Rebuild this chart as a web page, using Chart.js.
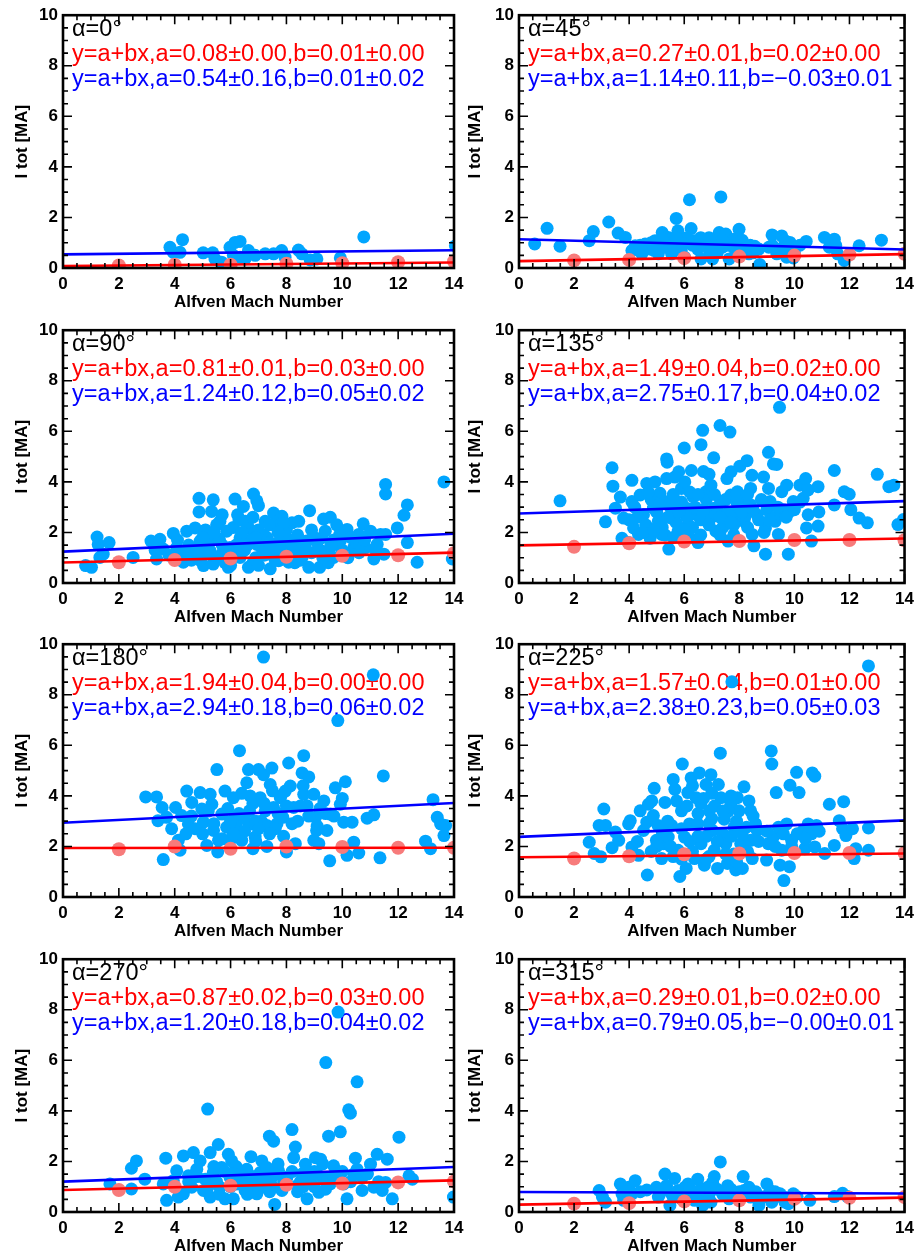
<!DOCTYPE html>
<html>
<head>
<meta charset="utf-8">
<script src="https://cdn.jsdelivr.net/npm/chart.js@4.4.1/dist/chart.umd.min.js"></script>
<style>
    html, body { margin: 0; padding: 0; background: #fff; width: 920px; height: 1255px; overflow: hidden; position: relative; }
    canvas { position: absolute; }
</style>
</head>
<body>
<script>
    // panel angles and the fit results printed inside each panel
    const angles = [0, 45, 90, 135, 180, 225, 270, 315];
    const redFitText = [
        'y=a+bx,a=0.08\u00b10.00,b=0.01\u00b10.00',
        'y=a+bx,a=0.27\u00b10.01,b=0.02\u00b10.00',
        'y=a+bx,a=0.81\u00b10.01,b=0.03\u00b10.00',
        'y=a+bx,a=1.49\u00b10.04,b=0.02\u00b10.00',
        'y=a+bx,a=1.94\u00b10.04,b=0.00\u00b10.00',
        'y=a+bx,a=1.57\u00b10.04,b=0.01\u00b10.00',
        'y=a+bx,a=0.87\u00b10.02,b=0.03\u00b10.00',
        'y=a+bx,a=0.29\u00b10.01,b=0.02\u00b10.00'
    ];
    const blueFitText = [
        'y=a+bx,a=0.54\u00b10.16,b=0.01\u00b10.02',
        'y=a+bx,a=1.14\u00b10.11,b=\u22120.03\u00b10.01',
        'y=a+bx,a=1.24\u00b10.12,b=0.05\u00b10.02',
        'y=a+bx,a=2.75\u00b10.17,b=0.04\u00b10.02',
        'y=a+bx,a=2.94\u00b10.18,b=0.06\u00b10.02',
        'y=a+bx,a=2.38\u00b10.23,b=0.05\u00b10.03',
        'y=a+bx,a=1.20\u00b10.18,b=0.04\u00b10.02',
        'y=a+bx,a=0.79\u00b10.05,b=\u22120.00\u00b10.01'
    ];

    // fit lines, end points at x = 0 and x = 14
    const fitX = [0, 14];
    const redFitY = [[0.08, 0.22], [0.27, 0.55], [0.81, 1.20], [1.49, 1.76], [1.94, 1.95], [1.57, 1.72], [0.87, 1.25], [0.29, 0.57]];
    const blueFitY = [[0.54, 0.70], [1.14, 0.73], [1.24, 1.95], [2.75, 3.24], [2.94, 3.72], [2.38, 3.03], [1.20, 1.78], [0.79, 0.73]];

    // binned medians (pink dots)
    const binX = [2, 4, 6, 8, 10, 12, 14];
    const binY = [
        [0.10, 0.13, 0.13, 0.17, 0.19, 0.23, 0.26],
        [0.30, 0.32, 0.39, 0.45, 0.49, 0.53, 0.56],
        [0.82, 0.91, 0.97, 1.04, 1.08, 1.10, 1.18],
        [1.43, 1.57, 1.64, 1.66, 1.70, 1.70, 1.69],
        [1.89, 2.00, 1.91, 2.00, 1.98, 1.95, 1.95],
        [1.52, 1.61, 1.69, 1.72, 1.74, 1.74, 1.74],
        [0.87, 1.00, 1.04, 1.08, 1.13, 1.17, 1.21],
        [0.33, 0.35, 0.42, 0.46, 0.52, 0.56, 0.59]
    ];

    // events: [Alfven Mach number, I tot]
    const events0 = [[3.83,0.82],[3.95,0.62],[4.28,1.12],[4.19,0.62],[5.02,0.60],[5.36,0.60],[5.44,0.36],[5.68,0.23],[5.72,0.10],[5.98,0.82],[6.16,1.01],[6.34,1.05],[6.10,0.50],[6.34,0.43],[6.52,0.36],[6.64,0.69],[6.88,0.50],[7.24,0.56],[7.54,0.56],[7.83,0.69],[7.95,0.43],[8.43,0.71],[8.55,0.56],[8.85,0.32],[9.09,0.36],[9.93,0.40],[10.77,1.23],[14.05,0.88]];
    const events45 = [[0.57,0.95],[1.02,1.57],[1.49,0.86],[2.55,1.08],[2.70,1.44],[3.26,1.82],[3.60,1.38],[3.86,1.21],[4.10,0.69],[4.22,0.88],[4.46,0.56],[4.58,0.95],[4.76,0.75],[4.94,1.08],[5.06,0.56],[5.20,1.40],[5.30,0.82],[5.42,1.21],[5.54,0.56],[5.71,1.96],[5.77,1.47],[5.83,1.08],[5.89,0.69],[6.01,0.43],[6.19,2.70],[6.25,1.56],[6.37,1.08],[6.49,0.75],[6.61,0.36],[6.73,1.08],[6.91,0.69],[7.09,0.95],[7.03,0.36],[7.33,2.81],[7.27,1.40],[7.39,0.82],[7.51,1.34],[7.63,0.36],[7.81,1.14],[7.99,1.53],[7.99,0.49],[8.17,0.82],[8.35,0.56],[8.56,0.86],[8.71,0.75],[8.74,0.14],[9.07,0.82],[9.19,1.31],[9.36,0.56],[9.54,1.27],[9.66,1.08],[9.72,0.43],[9.84,1.01],[9.96,0.40],[10.43,1.05],[11.09,1.21],[11.27,0.82],[11.45,1.14],[11.57,0.56],[11.81,0.30],[12.35,0.88],[13.16,1.10],[4.8,1.0],[5.1,0.8],[5.6,0.9],[6.1,1.2],[6.5,1.0],[6.9,1.2],[7.2,0.6],[7.6,0.9],[8.1,1.1],[8.5,0.6],[9.5,0.75],[10.0,0.6],[5.3,1.1],[6.0,0.95],[4.4,0.9],[4.9,0.7],[5.2,1.1],[5.5,0.8],[5.7,1.2],[6.3,0.9],[6.6,1.2],[6.8,0.9],[7.0,0.7],[7.4,1.1],[7.8,0.8],[8.2,0.6],[8.4,0.9],[9.2,0.9],[9.8,0.8],[10.2,0.9],[11.5,0.9]];
    const events90 = [[0.81,0.69],[1.02,0.62],[1.22,1.82],[1.26,1.52],[1.32,1.01],[1.44,1.14],[1.65,1.60],[2.51,1.01],[3.15,1.66],[3.35,0.95],[3.47,1.73],[3.59,1.34],[3.95,1.96],[4.07,1.40],[4.31,0.82],[4.43,2.05],[4.61,1.14],[4.73,2.18],[4.87,3.35],[4.87,2.81],[4.91,1.66],[5.03,0.69],[5.15,1.92],[5.27,1.27],[5.38,3.29],[5.32,2.83],[5.38,0.75],[5.50,1.79],[5.62,2.44],[5.68,1.14],[5.86,2.05],[5.92,0.62],[5.98,1.40],[6.16,3.32],[6.25,2.70],[6.34,1.79],[6.34,1.01],[6.46,3.03],[6.52,2.44],[6.64,2.18],[6.64,0.62],[6.82,3.52],[6.94,3.25],[7.00,3.06],[6.94,1.53],[7.18,1.92],[7.24,2.44],[7.30,1.14],[7.42,0.56],[7.54,2.77],[7.66,2.44],[7.72,0.88],[7.84,2.64],[7.90,1.92],[8.02,1.40],[8.08,0.82],[8.20,2.38],[8.44,2.44],[8.38,1.66],[8.56,1.01],[8.83,2.86],[8.73,1.66],[8.80,0.62],[9.19,0.62],[9.27,1.79],[9.33,2.53],[9.57,2.60],[9.39,2.05],[9.57,1.40],[9.69,1.01],[9.93,1.66],[10.17,2.12],[10.41,1.40],[10.59,1.92],[10.75,2.34],[10.83,1.40],[11.01,2.05],[11.13,0.95],[11.25,1.53],[11.37,1.92],[11.49,1.14],[11.55,3.90],[11.55,3.52],[11.55,1.92],[11.97,2.18],[12.21,2.68],[12.33,3.09],[12.33,1.60],[12.68,0.82],[13.64,4.00],[13.94,0.95],[4.5,1.5],[5.0,1.2],[5.2,1.6],[5.5,1.0],[5.7,1.5],[6.0,1.1],[6.2,1.5],[6.5,1.3],[6.7,1.7],[6.9,1.0],[7.1,1.4],[7.3,1.8],[7.5,1.2],[7.7,1.6],[7.9,1.1],[8.1,1.7],[8.3,1.3],[8.6,1.5],[8.9,1.2],[9.1,1.6],[9.4,1.2],[9.7,1.7],[10.0,1.3],[10.3,1.8],[10.6,1.2],[4.2,1.2],[4.6,0.9],[5.8,0.8],[6.8,0.8],[7.6,0.9],[8.5,0.9],[9.5,0.8],[5.1,2.1],[6.1,2.2],[7.0,2.1],[8.0,2.1],[5.5,2.3],[6.6,2.4],[7.4,2.3],[4.4,1.0],[4.8,1.3],[5.3,1.1],[5.6,1.7],[5.9,1.3],[6.3,1.2],[6.6,1.5],[6.9,1.8],[7.2,1.1],[7.4,1.6],[7.8,1.3],[8.2,1.1],[8.4,1.9],[8.7,1.3],[9.0,1.8],[9.3,1.0],[9.6,1.5],[9.9,1.9],[10.2,1.0],[10.5,1.6],[4.1,1.7],[4.9,0.9],[5.4,2.0],[6.4,2.0],[7.7,2.0],[8.9,2.1],[9.8,2.3],[6.0,0.7],[7.0,0.7],[8.3,0.8],[9.2,1.3],[10.8,1.7],[11.2,1.3],[3.8,1.1],[3.3,1.3],[5.7,2.7],[6.8,2.6],[7.9,2.4],[6.3,2.5],[5.0,1.8]];
    const events135 = [[1.49,3.25],[3.14,2.42],[3.38,4.56],[3.41,3.83],[3.50,2.96],[3.68,3.40],[3.74,1.77],[3.80,2.57],[3.98,1.60],[4.10,4.06],[4.10,3.22],[4.16,2.18],[4.34,1.92],[4.40,3.48],[4.52,2.70],[4.64,3.94],[4.70,2.18],[4.76,1.77],[4.88,2.96],[4.94,4.00],[5.06,2.44],[5.12,3.55],[5.18,1.92],[5.30,3.22],[5.36,4.91],[5.38,4.78],[5.36,4.13],[5.44,1.34],[5.54,2.57],[5.66,4.19],[5.72,3.22],[5.78,2.05],[5.90,3.74],[6.00,5.34],[6.02,4.00],[6.08,2.96],[6.14,2.31],[6.26,4.45],[6.32,3.42],[6.44,2.70],[6.50,1.60],[6.61,5.47],[6.67,6.04],[6.70,4.41],[6.79,3.61],[6.85,2.70],[6.97,3.87],[7.07,4.95],[7.09,2.96],[7.15,2.05],[7.30,6.23],[7.33,3.22],[7.45,2.44],[7.55,4.13],[7.59,1.66],[7.66,5.97],[7.69,3.48],[7.81,2.70],[7.93,3.61],[8.02,4.62],[8.10,3.22],[8.17,2.44],[8.28,4.84],[8.41,3.74],[8.46,4.26],[8.47,1.92],[8.53,1.47],[8.64,2.70],[8.88,4.19],[8.95,1.14],[8.95,2.18],[9.06,5.17],[9.06,3.74],[9.12,3.22],[9.24,4.71],[9.36,4.69],[9.30,2.44],[9.42,1.92],[9.46,6.95],[9.54,3.61],[9.66,2.83],[9.72,3.87],[9.78,1.14],[9.96,3.22],[10.20,3.87],[10.32,3.35],[10.41,4.13],[10.44,2.18],[10.50,3.68],[10.62,1.66],[10.86,3.81],[10.89,2.81],[10.86,2.25],[11.45,4.45],[11.45,3.09],[11.81,3.61],[11.99,3.51],[12.05,2.90],[12.35,2.57],[12.65,2.38],[13.01,4.30],[13.43,3.81],[13.61,3.87],[13.76,2.31],[13.96,2.51],[4.3,2.6],[4.6,2.3],[4.8,3.3],[5.0,2.8],[5.2,2.2],[5.5,3.0],[5.7,2.4],[5.9,3.2],[6.1,2.6],[6.3,2.2],[6.4,3.0],[6.6,2.5],[6.8,3.3],[7.0,2.6],[7.2,3.0],[7.4,2.2],[7.6,2.8],[7.8,2.3],[8.0,3.0],[8.2,2.6],[8.4,3.1],[8.7,2.5],[9.0,2.9],[9.3,2.6],[9.6,2.9],[4.5,2.0],[5.3,1.9],[6.2,1.8],[7.3,1.9],[8.3,2.2],[4.0,2.5],[9.8,2.8],[4.2,3.0],[4.9,2.1],[5.1,3.1],[5.4,2.6],[5.6,3.5],[5.8,2.8],[6.0,2.1],[6.2,3.6],[6.5,3.5],[6.7,2.9],[6.9,2.3],[7.1,3.5],[7.3,2.6],[7.5,3.3],[7.7,2.4],[7.9,3.2],[8.1,2.8],[8.3,3.5],[8.5,2.9],[8.8,3.3],[9.1,2.5],[9.4,3.0],[9.7,2.6],[10.0,2.9],[10.2,3.2],[4.7,3.6],[5.6,1.8],[6.6,1.9],[7.8,1.9],[8.9,2.0],[6.9,4.3],[7.7,4.4],[5.8,4.4],[10.5,2.7]];
    const events180 = [[2.96,3.96],[3.35,3.96],[3.59,1.48],[3.55,3.54],[3.40,3.02],[3.71,3.15],[3.89,2.70],[4.03,3.54],[4.13,2.24],[4.19,1.85],[4.25,3.22],[4.43,4.19],[4.49,2.89],[4.61,3.74],[4.73,2.70],[4.91,4.13],[4.97,3.48],[5.03,2.96],[5.15,2.04],[5.27,4.06],[5.33,3.67],[5.39,2.63],[5.51,5.04],[5.54,1.78],[5.57,2.24],[5.69,3.28],[5.80,4.19],[5.86,2.76],[5.98,2.24],[6.10,3.93],[6.16,3.15],[6.32,5.79],[6.34,2.50],[6.40,2.24],[6.58,4.52],[6.64,5.04],[6.68,3.41],[6.76,2.89],[6.80,1.91],[6.88,2.37],[7.00,5.04],[7.06,3.93],[7.18,9.49],[7.18,4.84],[7.24,3.41],[7.30,2.83],[7.42,4.45],[7.48,5.10],[7.54,3.54],[7.66,2.89],[7.78,3.93],[7.87,3.15],[7.96,4.19],[8.00,1.78],[8.08,5.30],[8.14,4.39],[8.26,3.54],[8.32,2.11],[8.62,5.59],[8.56,4.91],[8.80,4.75],[8.62,4.06],[8.74,3.61],[8.98,4.06],[9.04,3.15],[9.08,2.63],[8.98,2.24],[9.16,2.11],[9.34,3.80],[9.45,2.63],[9.55,1.43],[9.57,3.28],[9.75,4.32],[9.84,6.98],[9.93,3.67],[10.11,4.56],[10.05,2.96],[10.17,1.65],[10.35,2.96],[10.41,2.17],[10.59,1.74],[10.89,3.12],[11.11,8.79],[11.13,3.25],[11.35,1.55],[11.47,4.79],[12.98,2.21],[13.16,1.91],[13.25,3.85],[13.40,3.15],[13.52,2.89],[13.70,2.83],[13.64,2.43],[5.0,2.5],[5.7,2.3],[6.2,2.8],[6.5,3.1],[7.1,3.0],[7.6,2.7],[6.9,2.2],[7.3,2.0],[8.4,3.0],[9.2,3.5],[6.0,3.0],[6.8,3.7],[7.8,4.0],[4.6,3.2],[5.2,3.4],[5.4,2.9],[5.9,3.5],[6.3,3.3],[6.5,2.6],[6.7,4.0],[6.9,3.0],[7.2,3.7],[7.4,2.5],[7.7,3.3],[8.0,3.6],[8.2,2.9],[8.5,3.6],[8.8,3.2],[9.1,2.8],[9.4,3.3],[6.1,2.5],[7.0,2.7],[4.4,2.5],[7.9,2.4],[8.6,4.4],[6.4,4.1],[7.5,4.2],[9.7,3.2],[10.0,3.9]];
    const events225 = [[2.55,2.17],[2.73,1.72],[2.91,2.83],[2.97,1.59],[3.08,3.48],[3.14,2.83],[3.38,1.95],[3.50,2.57],[3.62,2.24],[3.98,2.89],[4.04,3.02],[4.10,1.98],[4.34,1.65],[4.40,3.41],[4.52,2.63],[4.64,2.96],[4.66,0.87],[4.70,3.67],[4.82,3.80],[4.88,3.22],[4.91,4.30],[4.99,2.24],[5.05,2.83],[5.18,1.52],[5.24,2.11],[5.30,3.74],[5.42,2.37],[5.54,2.83],[5.60,4.65],[5.66,4.26],[5.72,3.80],[5.78,1.85],[5.84,0.81],[5.90,3.41],[5.93,5.26],[6.01,2.37],[6.07,1.13],[6.13,4.13],[6.19,2.89],[6.25,4.71],[6.37,1.52],[6.43,3.93],[6.49,2.89],[6.55,4.91],[6.61,2.11],[6.73,1.26],[6.79,4.45],[6.91,3.41],[6.97,4.84],[7.03,2.63],[7.09,1.85],[7.21,1.13],[7.24,4.45],[7.31,5.69],[7.33,3.93],[7.45,3.08],[7.51,2.11],[7.57,1.33],[7.69,3.67],[7.73,8.51],[7.81,2.76],[7.87,1.07],[7.93,3.93],[7.99,3.41],[8.05,2.11],[8.11,1.13],[8.17,4.36],[8.26,2.76],[8.35,3.80],[8.41,3.41],[8.41,2.24],[8.47,1.52],[8.59,2.89],[8.65,2.63],[8.99,1.46],[9.05,2.11],[9.16,5.78],[9.18,5.26],[9.34,4.13],[9.24,2.37],[9.42,2.76],[9.48,1.26],[9.54,1.85],[9.62,0.65],[9.72,2.89],[9.82,1.20],[9.84,4.42],[9.90,2.24],[10.08,4.93],[10.17,4.13],[10.32,2.63],[10.38,1.91],[10.50,2.89],[10.62,2.50],[10.65,4.91],[10.74,4.78],[10.74,1.98],[10.80,2.83],[11.10,1.72],[11.27,3.67],[11.45,2.04],[11.63,3.02],[11.79,3.77],[11.75,2.70],[11.87,2.43],[12.11,2.70],[12.17,1.52],[12.23,1.91],[12.69,9.14],[12.69,2.73],[12.69,1.85],[6.5,3.3],[6.8,2.4],[7.0,3.1],[7.4,2.5],[7.6,3.4],[6.2,2.2],[5.5,2.0],[6.9,1.6],[7.8,1.7],[8.2,2.0],[5.2,2.6],[6.6,3.7],[5.0,2.0],[5.4,3.0],[5.6,1.6],[5.9,2.7],[6.1,3.6],[6.3,1.8],[6.5,2.4],[6.7,3.9],[6.9,2.9],[7.1,3.6],[7.2,2.2],[7.4,3.4],[7.5,1.7],[7.7,2.4],[7.9,3.0],[8.1,2.5],[8.3,1.8],[8.5,3.2],[8.7,2.2],[9.0,2.6],[9.3,2.0],[9.6,2.5],[9.9,2.0],[10.1,2.5],[10.4,2.3],[10.9,2.6],[4.3,2.2],[4.8,1.8],[5.9,1.5],[6.8,1.5],[7.9,1.4],[6.3,4.4],[7.0,4.1],[7.7,4.0]];
    const events270 = [[1.68,1.11],[2.45,0.91],[2.45,1.73],[2.63,2.02],[2.93,1.30],[3.59,1.11],[3.68,2.13],[3.71,0.46],[3.95,1.24],[4.07,1.63],[4.13,0.59],[4.31,2.22],[4.31,0.72],[4.49,1.43],[4.61,0.98],[4.67,2.35],[4.79,1.69],[4.91,2.02],[5.03,0.85],[5.09,1.30],[5.18,4.07],[5.27,2.35],[5.27,0.59],[5.38,1.56],[5.56,2.67],[5.62,0.98],[5.68,1.76],[5.80,0.52],[5.92,2.28],[5.98,1.37],[6.04,2.02],[6.10,0.52],[6.22,1.11],[6.34,1.56],[6.52,0.85],[6.58,1.69],[6.73,2.19],[6.82,1.11],[6.94,0.72],[7.06,1.56],[7.12,2.02],[7.24,0.98],[7.30,1.76],[7.39,3.00],[7.54,2.80],[7.48,1.37],[7.58,0.30],[7.72,1.63],[7.84,0.85],[8.02,1.37],[8.20,3.26],[8.26,2.15],[8.32,2.57],[8.38,1.04],[8.56,1.50],[8.68,1.89],[8.74,0.52],[8.86,1.24],[9.04,2.15],[9.10,1.50],[9.16,0.78],[9.22,2.09],[9.28,1.37],[9.41,5.91],[9.51,3.00],[9.57,1.11],[9.69,1.83],[9.85,7.91],[9.93,3.17],[10.05,1.11],[10.17,0.52],[10.23,4.04],[10.29,3.91],[10.41,1.50],[10.47,2.13],[10.53,5.15],[10.53,1.69],[10.71,1.37],[10.71,0.85],[11.01,1.89],[11.13,0.98],[11.25,2.28],[11.43,0.85],[11.55,1.17],[11.61,2.09],[11.79,0.52],[12.03,2.96],[12.39,1.43],[12.51,1.30],[13.98,0.59],[5.5,1.2],[6.0,1.0],[6.5,1.3],[7.0,1.1],[7.5,1.0],[8.0,1.1],[8.5,1.2],[9.0,1.0],[9.5,1.3],[6.2,1.8],[7.7,1.9],[8.8,1.6],[4.5,1.2],[4.8,1.4],[5.2,1.0],[5.4,1.8],[5.8,1.6],[6.1,1.5],[6.4,1.1],[6.8,1.4],[7.2,1.3],[7.6,1.5],[7.9,1.2],[8.2,1.6],[8.6,1.0],[9.0,1.6],[9.3,1.9],[9.7,1.4],[10.0,1.6],[10.3,1.2],[10.9,1.5],[11.3,1.2],[5.6,0.7],[6.6,0.7],[7.4,0.8],[8.4,0.8],[9.4,0.9]];
    const events315 = [[2.91,0.85],[3.03,0.59],[3.14,0.39],[3.68,1.11],[3.74,0.72],[3.80,0.46],[3.98,0.98],[4.10,0.72],[4.22,1.24],[4.64,0.87],[4.99,0.98],[5.06,0.59],[5.18,0.85],[5.30,1.50],[5.36,1.04],[5.48,0.26],[5.54,0.72],[5.65,1.33],[5.77,0.85],[5.90,0.52],[6.02,0.98],[6.14,1.11],[6.25,0.72],[6.37,0.46],[6.49,1.30],[6.55,0.85],[6.67,0.26],[6.73,0.59],[6.85,0.98],[6.97,0.39],[7.03,1.17],[7.09,1.40],[7.31,1.98],[7.58,1.04],[7.63,0.52],[7.81,0.78],[7.99,0.65],[8.14,1.40],[8.17,0.85],[8.35,0.98],[8.41,0.59],[8.53,0.72],[8.71,0.26],[9.00,1.11],[9.12,0.85],[9.18,0.39],[9.30,0.59],[9.48,0.72],[9.66,0.39],[9.78,0.33],[9.96,0.72],[10.56,0.46],[11.45,0.61],[11.75,0.74],[11.93,0.61],[4.4,0.8],[5.1,0.7],[5.3,0.9],[5.6,0.6],[5.9,0.8],[6.2,0.95],[6.4,0.6],[6.7,0.9],[6.9,0.7],[7.2,0.9],[7.4,0.7],[7.7,0.9],[8.0,0.8],[8.3,0.7],[8.6,0.8],[8.9,0.6],[9.3,0.8],[9.6,0.6],[10.1,0.6],[3.9,0.8]];
    const panelEvents = [events0, events45, events90, events135, events180, events225, events270, events315];

    const rowTops = [0, 315, 629, 944];
    const FONT = '"Liberation Sans", Arial, Helvetica, sans-serif';

    // box with inward major/minor ticks on all four sides, plus the fit text
    const framePlugin = {
        id: 'frame',
        beforeDatasetsDraw(chart, args, opts) {
            const { ctx, chartArea: a } = chart;
            ctx.save();
            ctx.font = '23.5px ' + FONT;
            ctx.textBaseline = 'alphabetic';
            ctx.textAlign = 'left';
            ctx.fillStyle = '#000';
            ctx.fillText('\u03b1=' + opts.angle + '\u00b0', a.left + 9, a.top + 21);
            ctx.fillStyle = '#ff0000';
            ctx.fillText(opts.red, a.left + 9, a.top + 46);
            ctx.fillStyle = '#0000ff';
            ctx.fillText(opts.blue, a.left + 9, a.top + 71);
            ctx.restore();
        },
        afterDatasetsDraw(chart) {
            const { ctx, chartArea: a, scales: { x, y } } = chart;
            ctx.save();
            ctx.strokeStyle = '#000';
            ctx.lineWidth = 1.6;
            ctx.beginPath();
            for (let v = x.min; v <= x.max; v += 0.5) {
                const px = x.getPixelForValue(v);
                const len = v % 2 === 0 ? 9 : 5;
                ctx.moveTo(px, a.bottom); ctx.lineTo(px, a.bottom - len);
                ctx.moveTo(px, a.top); ctx.lineTo(px, a.top + len);
            }
            for (let v = y.min; v <= y.max; v += 0.5) {
                const py = y.getPixelForValue(v);
                const len = v % 2 === 0 ? 9 : 5;
                ctx.moveTo(a.left, py); ctx.lineTo(a.left + len, py);
                ctx.moveTo(a.right, py); ctx.lineTo(a.right - len, py);
            }
            ctx.stroke();
            ctx.lineWidth = 2.6;
            ctx.strokeRect(a.left, a.top, a.right - a.left, a.bottom - a.top);
            ctx.restore();
        }
    };

    function makePanel(i) {
        const col = i % 2;
        const row = Math.floor(i / 2);
        const canvas = document.createElement('canvas');
        canvas.width = col ? 460 : 470;
        canvas.height = 315;
        canvas.style.left = (col ? 460 : 0) + 'px';
        canvas.style.top = rowTops[row] + 'px';
        document.body.appendChild(canvas);

        const yAxisWidth = col ? 59 : 63;

        new Chart(canvas, {
            type: 'scatter',
            data: {
                datasets: [
                    {
                        type: 'line',
                        data: fitX.map((x, k) => ({ x: x, y: redFitY[i][k] })),
                        borderColor: '#ff0000',
                        borderWidth: 2.6,
                        pointRadius: 0,
                        fill: false,
                        order: 0
                    },
                    {
                        type: 'line',
                        data: fitX.map((x, k) => ({ x: x, y: blueFitY[i][k] })),
                        borderColor: '#0000ff',
                        borderWidth: 2.6,
                        pointRadius: 0,
                        fill: false,
                        order: 0
                    },
                    {
                        data: binX.map((x, k) => ({ x: x, y: binY[i][k] })),
                        backgroundColor: '#f77b7b',
                        borderWidth: 0,
                        pointRadius: 7,
                        order: 1
                    },
                    {
                        data: panelEvents[i].map(p => ({ x: p[0], y: p[1] })),
                        backgroundColor: '#00a5ff',
                        borderWidth: 0,
                        pointRadius: 6.5,
                        order: 2
                    }
                ]
            },
            options: {
                responsive: false,
                animation: false,
                events: [],
                clip: 0,
                layout: { padding: { top: 12, left: 0, right: col ? 11 : 16, bottom: 0 } },
                scales: {
                    x: {
                        type: 'linear',
                        min: 0,
                        max: 14,
                        afterFit: s => { s.height = 47; },
                        grid: { display: false, drawTicks: false },
                        border: { display: false },
                        ticks: { stepSize: 2, padding: 6, color: '#000', maxRotation: 0, font: { family: FONT, size: 17, weight: 'bold' } },
                        title: { display: true, text: 'Alfven Mach Number', color: '#000', padding: { top: 0, bottom: 2 }, font: { family: FONT, size: 17, weight: 'bold' } }
                    },
                    y: {
                        min: 0,
                        max: 10,
                        afterFit: s => { s.width = yAxisWidth; },
                        grid: { display: false, drawTicks: false },
                        border: { display: false },
                        ticks: { stepSize: 2, padding: 5, color: '#000', font: { family: FONT, size: 17, weight: 'bold' } },
                        title: { display: true, text: 'I tot [MA]', color: '#000', padding: { top: col ? 5 : 12, bottom: 0 }, font: { family: FONT, size: 17, weight: 'bold' } }
                    }
                },
                plugins: {
                    legend: { display: false },
                    tooltip: { enabled: false },
                    frame: { angle: angles[i], red: redFitText[i], blue: blueFitText[i] }
                }
            },
            plugins: [framePlugin]
        });
    }

    for (let i = 0; i < angles.length; i++) {
        makePanel(i);
    }
</script>
</body>
</html>
